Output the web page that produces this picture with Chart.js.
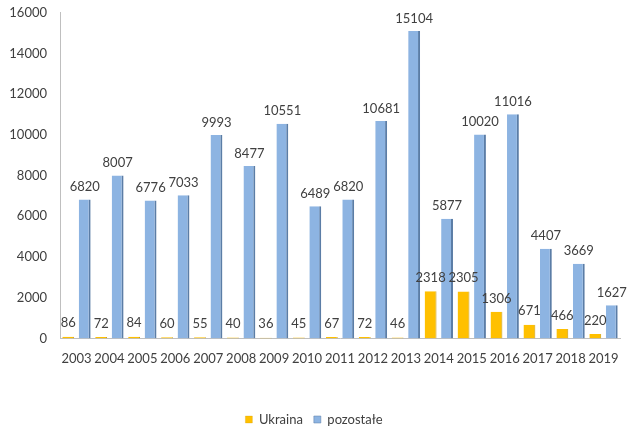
<!DOCTYPE html>
<html>
<head>
<meta charset="utf-8">
<script src="https://cdn.jsdelivr.net/npm/chart.js@4"></script>
<style>
  html, body { margin: 0; padding: 0; background: #fff; }
  #wrap { width: 630px; height: 426px; }
</style>
</head>
<body>
<div id="wrap"><canvas id="myChart" width="630" height="426"></canvas></div>
<script>
const years = ['2003', '2004', '2005', '2006', '2007', '2008', '2009', '2010', '2011', '2012', '2013', '2014', '2015', '2016', '2017', '2018', '2019'];
const ukraina = [86, 72, 84, 60, 55, 40, 36, 45, 67, 72, 46, 2318, 2305, 1306, 671, 466, 220];
const pozostale = [6820, 8007, 6776, 7033, 9993, 8477, 10551, 6489, 6820, 10681, 15104, 5877, 10020, 11016, 4407, 3669, 1627];
const yTicks = [0, 2000, 4000, 6000, 8000, 10000, 12000, 14000, 16000];

const fontFamily = 'Lato, "Open Sans", sans-serif';

// value labels over each bar
const valueLabels = {
    id: 'valueLabels',
    afterDatasetsDraw(chart) {
        const ctx = chart.ctx;
        ctx.save();
        ctx.font = '13px ' + fontFamily;
        ctx.fillStyle = '#404040';
        ctx.textAlign = 'center';
        ctx.textBaseline = 'bottom';
        chart.data.datasets.forEach((ds, i) => {
            const meta = chart.getDatasetMeta(i);
            meta.data.forEach((bar, j) => {
                const off = i === 0 ? 7 : 6;
                ctx.fillText(String(ds.data[j]), bar.x, bar.y - off);
            });
        });
        ctx.restore();
    }
};

// push the legend a little lower, closer to the bottom edge
const legendShift = {
    id: 'legendShift',
    afterLayout(chart) {
        chart.legend.top += 10;
        chart.legend.bottom += 10;
    }
};

new Chart(document.getElementById('myChart').getContext('2d'), {
    type: 'bar',
    data: {
        labels: years,
        datasets: [{
            label: 'Ukraina',
            data: ukraina,
            backgroundColor: '#FFC000',
            borderColor: '#C89600',
            borderWidth: { top: 0, left: 0, right: 1, bottom: 0 },
            borderSkipped: false,
            categoryPercentage: 1,
            barPercentage: 0.72
        }, {
            label: 'pozostałe',
            data: pozostale,
            backgroundColor: '#8DB4E2',
            borderColor: '#5B7DA6',
            borderWidth: { top: 0, left: 0, right: 2, bottom: 0 },
            borderSkipped: false,
            categoryPercentage: 1,
            barPercentage: 0.72
        }]
    },
    options: {
        responsive: false,
        animation: false,
        layout: { padding: { left: 8, right: 10, top: 7, bottom: 0 } },
        plugins: {
            legend: {
                position: 'bottom',
                labels: {
                    boxWidth: 7,
                    boxHeight: 7,
                    padding: 11,
                    color: '#404040',
                    font: { family: fontFamily, size: 13 }
                }
            },
            tooltip: { enabled: false }
        },
        scales: {
            x: {
                grid: { display: false },
                border: { display: true, color: '#BFBFBF' },
                afterFit(axis) { axis.height += 20; },
                ticks: {
                    color: '#404040',
                    padding: 5,
                    maxRotation: 0,
                    autoSkip: false,
                    font: { family: fontFamily, size: 13 }
                }
            },
            y: {
                min: 0,
                max: 16000,
                grid: { display: false },
                border: { display: true, color: '#BFBFBF' },
                afterFit(axis) { axis.width = 52; },
                afterBuildTicks(axis) {
                    axis.ticks = yTicks.map(v => ({ value: v }));
                },
                ticks: {
                    color: '#404040',
                    padding: 5,
                    callback: v => String(v),
                    font: { family: fontFamily, size: 13 }
                }
            }
        }
    },
    plugins: [valueLabels, legendShift]
});
</script>
</body>
</html>
